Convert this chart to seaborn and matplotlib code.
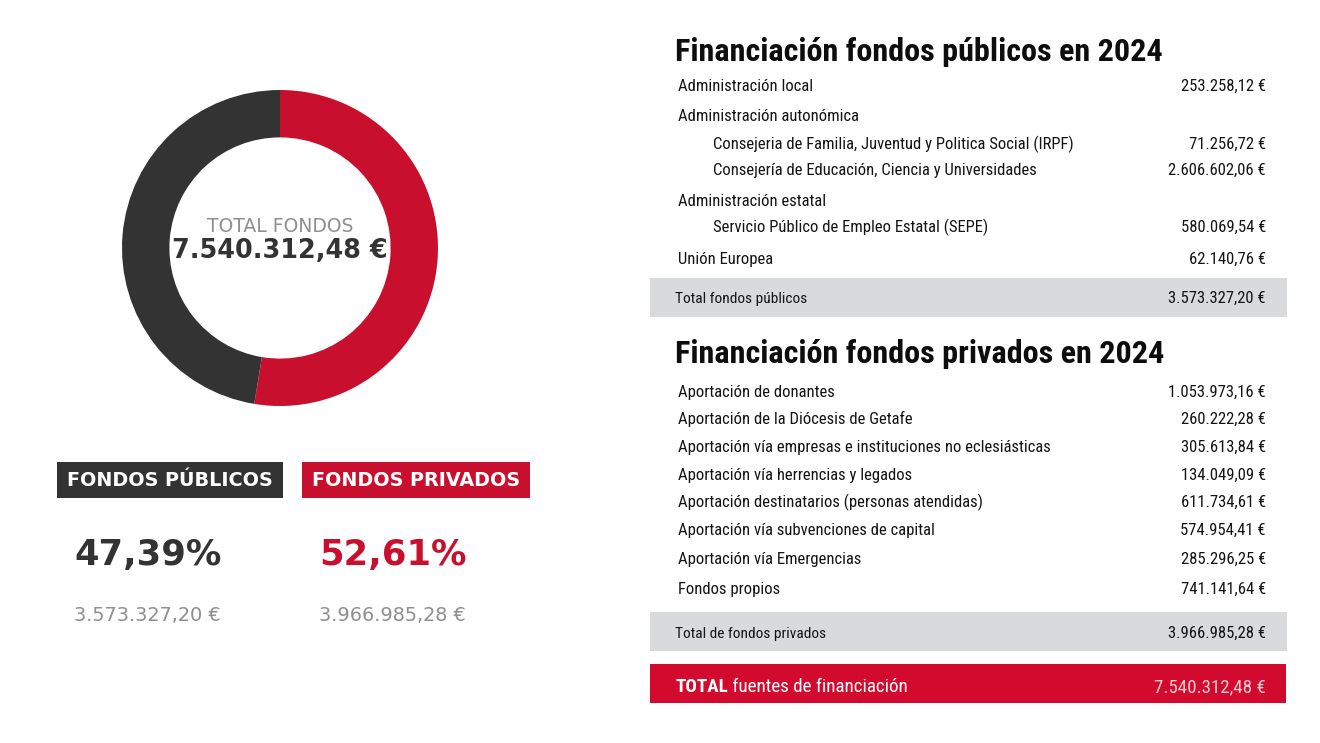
import matplotlib
matplotlib.use("Agg")
import matplotlib.pyplot as plt
import seaborn as sns
from matplotlib import font_manager as fm
from matplotlib.patches import Rectangle

# ---------------- data ----------------
segment_labels = ["Fondos privados", "Fondos públicos"]
segment_values = [3966985.28, 3573327.20]
segment_pct = ["52,61%", "47,39%"]
segment_amounts = ["3.966.985,28 €", "3.573.327,20 €"]
total_label = "TOTAL FONDOS"
total_amount = "7.540.312,48 €"

public_title = "Financiación fondos públicos en 2024"
public_labels = [
    "Administración local",
    "Administración autonómica",
    "Consejeria de Familia, Juventud y Politica Social (IRPF)",
    "Consejería de Educación, Ciencia y Universidades",
    "Administración estatal",
    "Servicio Público de Empleo Estatal (SEPE)",
    "Unión Europea",
]
public_values = ["253.258,12 €", "", "71.256,72 €", "2.606.602,06 €", "",
                 "580.069,54 €", "62.140,76 €"]
public_levels = [0, 0, 1, 1, 0, 1, 0]
public_total_label = "Total fondos públicos"
public_total_value = "3.573.327,20 €"

private_title = "Financiación fondos privados en 2024"
private_labels = [
    "Aportación de donantes",
    "Aportación de la Diócesis de Getafe",
    "Aportación vía empresas e instituciones no eclesiásticas",
    "Aportación vía herrencias y legados",
    "Aportación destinatarios (personas atendidas)",
    "Aportación vía subvenciones de capital",
    "Aportación vía Emergencias",
    "Fondos propios",
]
private_values = ["1.053.973,16 €", "260.222,28 €", "305.613,84 €", "134.049,09 €",
                  "611.734,61 €", "574.954,41 €", "285.296,25 €", "741.141,64 €"]
private_total_label = "Total de fondos privados"
private_total_value = "3.966.985,28 €"

grand_total_bold = "TOTAL"
grand_total_rest = " fuentes de financiación"
grand_total_value = "7.540.312,48 €"

# ---------------- style ----------------
RED = "#C8102E"
RED_BAND = "#D20A2E"
DARK = "#333333"
GRAY_TXT = "#8f8f8f"
BAND_GRAY = "#D9DADC"
ROW_TXT = "#141414"

sns.set_theme(style="white")
plt.rcParams["font.family"] = ["DejaVu Sans"]
palette = sns.color_palette([RED, DARK])


def pick_condensed():
    fonts = fm.fontManager.ttflist
    names = {f.name for f in fonts}
    for n in ["Roboto Condensed", "Liberation Sans Narrow", "Open Sans Condensed",
              "DejaVu Sans Condensed"]:
        if n in names:
            return dict(family=n)
    for f in fonts:
        if f.name == "DejaVu Sans" and str(f.stretch) in ("condensed", "semi-condensed", "500", "600"):
            return dict(family="DejaVu Sans", fontstretch="condensed")
    return dict(family="Roboto")


COND = pick_condensed()

fig = plt.figure(figsize=(13.2, 7.43), dpi=100)
fig.patch.set_facecolor("white")
bg = fig.add_axes([0, 0, 1, 1])
bg.set_xlim(0, 1320)
bg.set_ylim(743, 0)
bg.axis("off")

# ---------------- donut ----------------
cx, cy, R = 280, 248, 158
ax = fig.add_axes([(cx - R) / 1320, (743 - cy - R) / 743, 2 * R / 1320, 2 * R / 743])
ax.pie(segment_values, colors=palette, startangle=90, counterclock=False,
       radius=1.0, wedgeprops=dict(width=0.30, edgecolor="none", linewidth=0))
ax.set_xlim(-1, 1)
ax.set_ylim(-1, 1)
ax.set_aspect("equal")
ax.axis("off")

bg.text(cx, 231.5, total_label, ha="center", va="baseline", fontsize=13.5, color=GRAY_TXT)
bg.text(cx, 258, total_amount, ha="center", va="baseline", fontsize=18.4,
        fontweight="bold", color=DARK)

# legend boxes
box_specs = [(57, 283, DARK, "FONDOS PÚBLICOS"), (302, 530, RED, "FONDOS PRIVADOS")]
for x0, x1, col, lab in box_specs:
    bg.add_patch(Rectangle((x0, 462), x1 - x0, 36, facecolor=col, edgecolor="none"))
    bg.text((x0 + x1) / 2, 485.5, lab, ha="center", va="baseline", fontsize=13.8,
            fontweight="bold", color="white")

# percentages and amounts (públicos left, privados right)
pct_x = [74, 319]
order = [1, 0]
pct_cols = [DARK, RED]
for i, idx in enumerate(order):
    bg.text(pct_x[i], 565, segment_pct[idx], ha="left", va="baseline", fontsize=25.5,
            fontweight="bold", color=pct_cols[i])
    bg.text(pct_x[i], 621, segment_amounts[idx], ha="left", va="baseline", fontsize=13.9,
            color=GRAY_TXT)

# ---------------- tables ----------------
renderer = fig.canvas.get_renderer()
VAL_X = 1266
LAB_X = 678
IND_X = 713


def fit_class(texts, ref, target, lo=0.6, hi=1.3):
    w = ref.get_window_extent(renderer=renderer).width
    if w <= 0:
        return
    f = max(lo, min(hi, target / w))
    for t in texts:
        t.set_fontsize(t.get_fontsize() * f)


titles = []
titles.append(bg.text(675, 61, public_title, ha="left", va="baseline", fontsize=20,
                      fontweight="heavy", color="#0d0d0d", **COND))
titles.append(bg.text(675, 363, private_title, ha="left", va="baseline", fontsize=20,
                      fontweight="heavy", color="#0d0d0d", **COND))
fit_class(titles, titles[0], 488)

row_texts = []
ref_row = None
public_row_y = [91, 121, 149, 175, 206, 232, 264]
for lab, val, lev, y in zip(public_labels, public_values, public_levels, public_row_y):
    t = bg.text(IND_X if lev else LAB_X, y, lab, ha="left", va="baseline",
                fontsize=12.5, color=ROW_TXT, **COND)
    row_texts.append(t)
    if val:
        row_texts.append(bg.text(VAL_X, y, val, ha="right", va="baseline",
                                 fontsize=12.5, color=ROW_TXT, **COND))

private_row_y = [397, 424, 452, 480, 507, 535, 564, 594]
for lab, val, y in zip(private_labels, private_values, private_row_y):
    t = bg.text(LAB_X, y, lab, ha="left", va="baseline", fontsize=12.5,
                color=ROW_TXT, **COND)
    if lab.startswith("Aportación vía empresas"):
        ref_row = t
    row_texts.append(t)
    row_texts.append(bg.text(VAL_X, y, val, ha="right", va="baseline",
                             fontsize=12.5, color=ROW_TXT, **COND))

# gray total bands
bg.add_patch(Rectangle((650, 278), 637, 39, facecolor=BAND_GRAY, edgecolor="none"))
bg.add_patch(Rectangle((650, 612), 637, 39, facecolor=BAND_GRAY, edgecolor="none"))
tot_labels = [
    bg.text(675, 303, public_total_label, ha="left", va="baseline", fontsize=10.5,
            color=ROW_TXT, **COND),
    bg.text(675, 638, private_total_label, ha="left", va="baseline", fontsize=10.5,
            color=ROW_TXT, **COND),
]
tot_vals = [
    bg.text(VAL_X, 303, public_total_value, ha="right", va="baseline", fontsize=12.5,
            color=ROW_TXT, **COND),
    bg.text(VAL_X, 638, private_total_value, ha="right", va="baseline", fontsize=12.5,
            color=ROW_TXT, **COND),
]
fit_class(row_texts + tot_vals, ref_row, 375)
fit_class(tot_labels, tot_labels[1], 152)

# red grand total band
bg.add_patch(Rectangle((650, 664), 636, 39, facecolor=RED_BAND, edgecolor="none"))
gt_bold = bg.text(675, 692, grand_total_bold, ha="left", va="baseline", fontsize=14,
                  fontweight="bold", color="white", **COND)
gt_rest = bg.text(700, 692, grand_total_rest, ha="left", va="baseline", fontsize=14,
                  color="white", **COND)
gt_val = bg.text(VAL_X, 692, grand_total_value, ha="right", va="baseline", fontsize=14,
                 color="#F6CBD3", **COND)
wb = gt_bold.get_window_extent(renderer=renderer).width
wr = gt_rest.get_window_extent(renderer=renderer).width
f = max(0.6, min(1.3, 233 / (wb + wr)))
for t in (gt_bold, gt_rest, gt_val):
    t.set_fontsize(t.get_fontsize() * f)
wb = gt_bold.get_window_extent(renderer=renderer).width
gt_rest.set_x(675 + wb)

fig.savefig("out.png", dpi=100, facecolor="white")
